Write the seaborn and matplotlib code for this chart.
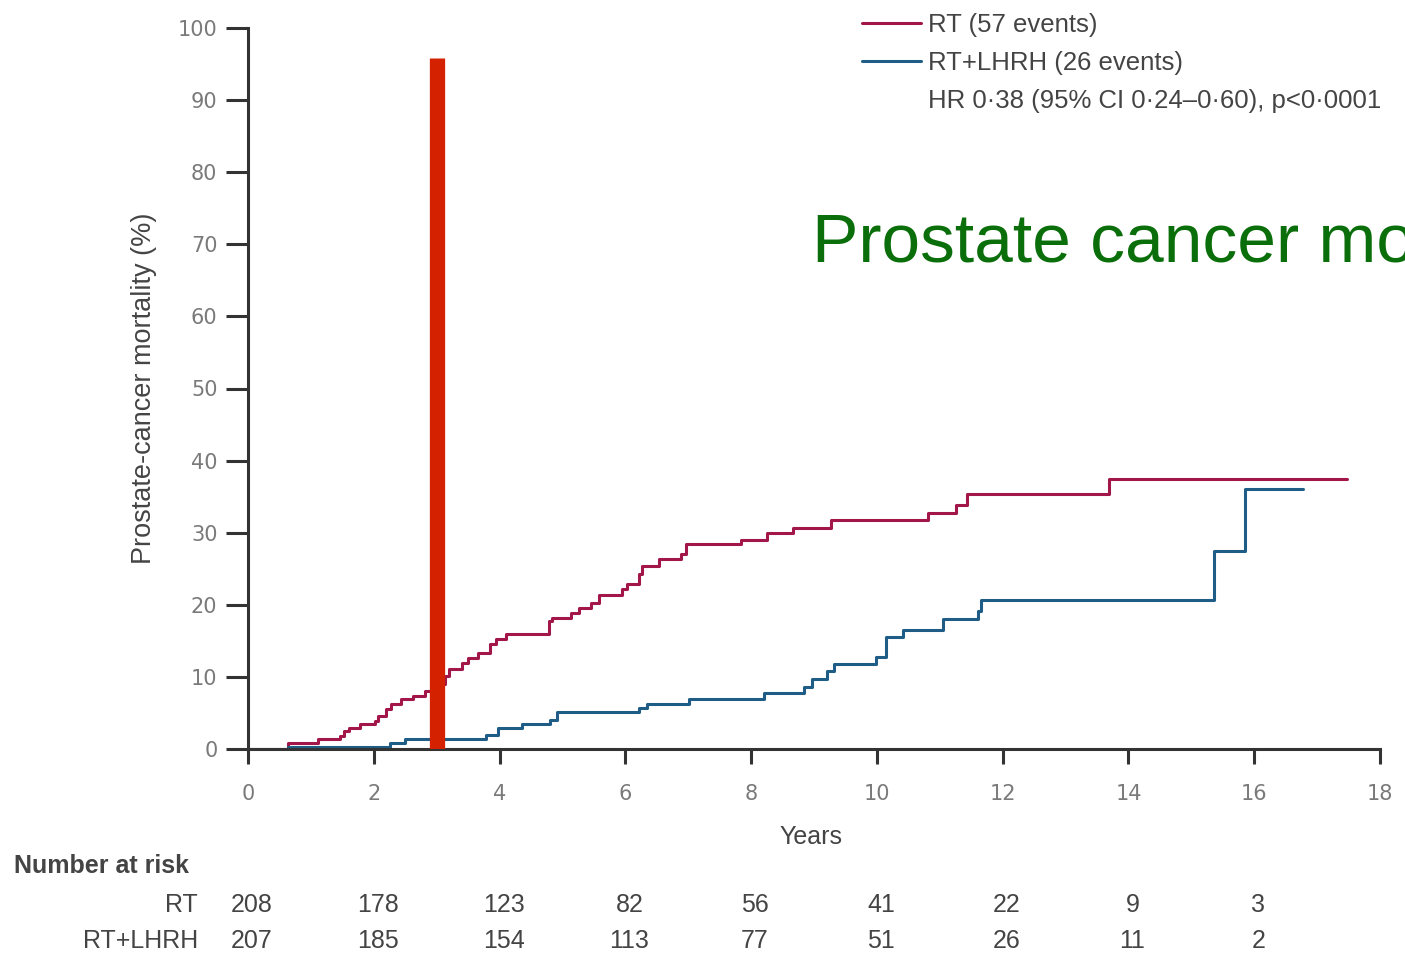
import matplotlib
matplotlib.use("Agg")
import matplotlib.pyplot as plt
from matplotlib.lines import Line2D
import seaborn as sns
import pandas as pd

# ---- data ----
rt_years = [0, 0.64, 1.12, 1.46, 1.52, 1.6, 1.78, 2.02, 2.07, 2.2,
            2.28, 2.44, 2.63, 2.82, 2.95, 3.14, 3.19, 3.4, 3.5, 3.66,
            3.85, 3.95, 4.11, 4.78, 4.83, 5.13, 5.26, 5.45, 5.58, 5.94,
            6.02, 6.21, 6.27, 6.53, 6.88, 6.96, 7.84, 8.25, 8.66, 9.27,
            10.82, 11.25, 11.43, 13.69, 17.47]
rt_mort = [0, 0.8, 1.4, 1.8, 2.5, 2.9, 3.5, 3.9, 4.6, 5.6,
           6.2, 6.9, 7.4, 8.1, 9.0, 10.1, 11.1, 11.9, 12.6, 13.3,
           14.6, 15.3, 16.0, 17.8, 18.1, 18.8, 19.6, 20.3, 21.4, 22.2,
           22.9, 24.3, 25.4, 26.4, 27.1, 28.5, 29.0, 30.0, 30.7, 31.7,
           32.8, 33.8, 35.4, 37.5, 37.5]
lhrh_years = [0, 0.64, 2.26, 2.5, 3.78, 3.98, 4.35, 4.81, 4.91, 6.22,
              6.35, 7.01, 8.21, 8.84, 8.97, 9.2, 9.32, 9.99, 10.15, 10.41,
              11.05, 11.6, 11.66, 15.36, 15.86, 16.77]
lhrh_mort = [0, 0.3, 0.9, 1.4, 2.0, 2.9, 3.4, 4.0, 5.1, 5.7,
             6.2, 7.0, 7.7, 8.6, 9.7, 10.8, 11.8, 12.8, 15.5, 16.5,
             18.0, 19.2, 20.7, 27.5, 36.1, 36.1]

groups = ["RT", "RT+LHRH"]
legend_labels = ["RT (57 events)", "RT+LHRH (26 events)"]
hr_text = "HR 0·38 (95% CI 0·24–0·60), p<0·0001"

x_ticks = [0, 2, 4, 6, 8, 10, 12, 14, 16, 18]
y_ticks = [0, 10, 20, 30, 40, 50, 60, 70, 80, 90, 100]

risk_years = [0, 2, 4, 6, 8, 10, 12, 14, 16]
risk_rt = [208, 178, 123, 82, 56, 41, 22, 9, 3]
risk_lhrh = [207, 185, 154, 113, 77, 51, 26, 11, 2]

marker_year = 3
overlay_text = "Prostate cancer mortality"

# ---- styling ----
sns.set_style("white")
narrow = ["Liberation Sans", "DejaVu Sans"]
plt.rcParams["font.family"] = ["DejaVu Sans"]

RED = "#a3164a"
BLUE = "#1f5d86"
TXT = "#444444"
TICK = "#7a7a7a"
SPINE = "#333333"

df = pd.concat([
    pd.DataFrame({"Years": rt_years, "Mortality": rt_mort, "Group": groups[0]}),
    pd.DataFrame({"Years": lhrh_years, "Mortality": lhrh_mort, "Group": groups[1]}),
])

fig = plt.figure(figsize=(14.05, 9.59), dpi=100)
ax = fig.add_axes([248 / 1405, 1 - 749 / 959, (1380 - 248) / 1405, (749 - 28) / 959])

sns.lineplot(data=df, x="Years", y="Mortality", hue="Group",
             palette={groups[0]: RED, groups[1]: BLUE},
             drawstyle="steps-post", estimator=None, linewidth=2.2,
             legend=False, ax=ax)

ax.set_xlim(0, 18)
ax.set_ylim(0, 100)
ax.set_xticks(x_ticks)
ax.set_yticks(y_ticks)
ax.set_xticklabels([str(t) for t in x_ticks])
ax.set_yticklabels([str(t) for t in y_ticks])
for s in ["top", "right"]:
    ax.spines[s].set_visible(False)
for s in ["left", "bottom"]:
    ax.spines[s].set_color(SPINE)
    ax.spines[s].set_linewidth(2.2)
ax.tick_params(axis="y", direction="out", length=16, width=2.2, color=SPINE,
               labelsize=15, labelcolor=TICK, pad=6, left=True)
ax.tick_params(axis="x", direction="out", length=11, width=2.2, color=SPINE,
               labelsize=15, labelcolor=TICK, pad=14, bottom=True)

ax.set_xlabel("Years", fontsize=18, color=TXT, family=narrow)
ax.set_ylabel("Prostate-cancer mortality (%)", fontsize=19.5, color=TXT,
              family=narrow, labelpad=15)
ax.xaxis.set_label_coords(0.497, -0.105)

# red vertical marker
ax.plot([marker_year, marker_year], [0, 95.8], color="#d42200",
        linewidth=11, solid_capstyle="butt", zorder=5)

# legend
handles = [Line2D([], [], color=RED, lw=2.2), Line2D([], [], color=BLUE, lw=2.2),
           Line2D([], [], color="none", lw=0)]
leg = ax.legend(handles, legend_labels + [hr_text], loc="upper left",
                bbox_to_anchor=(839 / 1405, 1 + 10 / 959),
                bbox_transform=fig.transFigure, frameon=False,
                handlelength=2.3, handletextpad=0.25, labelspacing=0.55,
                prop={"family": narrow, "size": 18.5})
for t in leg.get_texts():
    t.set_color(TXT)

# overlay text (runs off the right edge, as in the reference)
fig.text(812 / 1405, 1 - 262 / 959, overlay_text, fontsize=50,
         color="#0a6e0a", family=["Liberation Sans", "DejaVu Sans"],
         ha="left", va="baseline")

# number at risk table
fig.text(14 / 1405, 1 - 866 / 959, "Number at risk", fontsize=18,
         fontweight="bold", color=TXT, family=narrow, va="center", ha="left")
row_y = [1 - 905 / 959, 1 - 941 / 959]
for label, vals, yy in zip(groups, [risk_rt, risk_lhrh], row_y):
    fig.text(198 / 1405, yy, label, fontsize=18, color=TXT, family=narrow,
             ha="right", va="center")
    for xv, v in zip(risk_years, vals):
        xfig = fig.transFigure.inverted().transform(
            ax.transData.transform((xv, 0)))[0]
        fig.text(xfig + 4 / 1405, yy, str(v), fontsize=18, color=TXT,
                 family=narrow, ha="center", va="center")

fig.savefig("out.png", dpi=100, facecolor="white")
